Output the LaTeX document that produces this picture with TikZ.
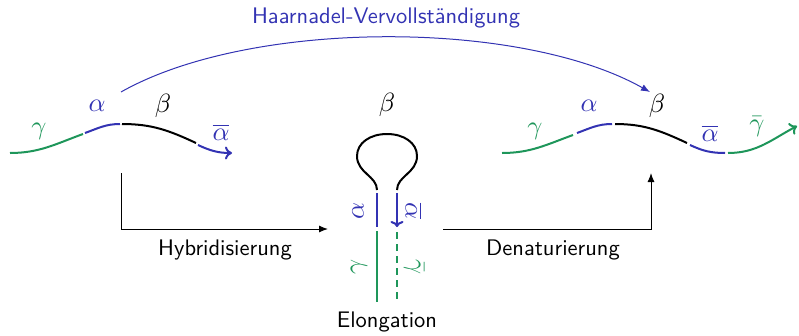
\documentclass[tikz,border=0pt]{standalone}
\usepackage{fontspec}
\usetikzlibrary{arrows.meta}
\definecolor{sblue}{RGB}{51,51,179}
\definecolor{sgreen}{RGB}{30,150,90}
\begin{document}
\begin{tikzpicture}[x=1pt,y=1pt,
  font=\sffamily,
  every node/.style={scale=2.25},
  strand/.style={line width=2pt},
  tipstrand/.style={strand,-{Computer Modern Rightarrow[length=7pt,width=13pt]}},
  flow/.style={line width=1pt,-{Latex[length=9pt,width=7pt]}},
  lbl/.style={inner sep=0pt,scale=1.17}]
\useasboundingbox (0,0) rectangle (799,-335);

% ---------- left strand ----------
\coordinate (L0) at (10,-153);  \coordinate (L1) at (83,-134);
\coordinate (L2) at (85,-133);  \coordinate (L3) at (120,-124);
\coordinate (L4) at (122,-124); \coordinate (L5) at (196,-143);
\coordinate (L6) at (198,-145); \coordinate (L7) at (232,-153);
\draw[strand,sgreen] (L0) to[out=0,in=200] (L1);
\draw[strand,sblue] (L2) to[out=20,in=180] (L3);
\draw[strand,black] (L4) to[out=0,in=155] (L5);
\draw[tipstrand,sblue] (L6) to[out=-25,in=180] (L7);
\node[lbl,text=sgreen] (lg) at (39,-131) {$\gamma$};
\node[lbl,text=sblue] (la) at (97,-106) {$\alpha$};
\node[lbl] (lb) at (163,-106) {$\beta$};
\node[lbl,text=sblue] (lab) at (221,-132) {$\overline{\alpha}$};

% ---------- right strand ----------
\coordinate (R0) at (502,-153); \coordinate (R1) at (573,-135);
\coordinate (R2) at (577,-133); \coordinate (R3) at (612,-124);
\coordinate (R4) at (615,-124); \coordinate (R5) at (687,-143);
\coordinate (R6) at (690,-145); \coordinate (R7) at (725,-153);
\coordinate (R8) at (728,-153); \coordinate (R9) at (797,-126);
\draw[strand,sgreen] (R0) to[out=0,in=200] (R1);
\draw[strand,sblue] (R2) to[out=20,in=180] (R3);
\draw[strand,black] (R4) to[out=0,in=155] (R5);
\draw[strand,sblue] (R6) to[out=-25,in=180] (R7);
\draw[tipstrand,sgreen] (R8) to[out=0,in=208] (R9);
\node[lbl,text=sgreen] (rg) at (535,-131) {$\gamma$};
\node[lbl,text=sblue] (ra) at (589,-106) {$\alpha$};
\node[lbl] (rb) at (657,-106) {$\beta$};
\node[lbl,text=sblue] (rab) at (710,-133) {$\overline{\alpha}$};
\node[lbl,text=sgreen] (rgb) at (757,-127) {$\bar{\gamma}$};

% ---------- hairpin ----------
\coordinate (HL0) at (377,-190); \coordinate (HR0) at (397,-190);
\draw[strand,black] (HL0) .. controls (377,-176) and (357,-173) .. (357,-156)
  .. controls (357,-143) and (370,-134) .. (387,-134)
  .. controls (404,-134) and (417,-143) .. (417,-156)
  .. controls (417,-173) and (397,-176) .. (HR0);
\coordinate (HLa) at (377,-193); \coordinate (HLb) at (377,-227);
\coordinate (HLc) at (377,-231); \coordinate (HLd) at (377,-302);
\coordinate (HRa) at (397,-193); \coordinate (HRb) at (397,-227);
\coordinate (HRc) at (397,-232); \coordinate (HRd) at (397,-302);
\draw[strand,sblue] (HLa) -- (HLb);
\draw[strand,sgreen] (HLc) -- (HLd);
\draw[strand,sblue,-{Computer Modern Rightarrow[length=6pt,width=13pt]}] (HRa) -- (HRb);
\draw[strand,sgreen,dash pattern=on 7pt off 5pt] (HRc) -- (HRd);
\node[lbl] (hb) at (387,-105) {$\beta$};
\node[lbl,rotate=90,text=sblue] (ha) at (358,-211) {$\alpha$};
\node[lbl,rotate=90,text=sgreen] (hg) at (359,-267) {$\gamma$};
\node[lbl,rotate=-90,text=sblue] (hab) at (414,-211) {$\overline{\alpha}$};
\node[lbl,rotate=-90,text=sgreen] (hgb) at (414,-267) {$\bar{\gamma}$};
\node (elong) at (387,-322) {Elongation};

% ---------- process arrows ----------
\coordinate (hyA) at (121,-173); \coordinate (hyB) at (328,-229);
\draw[flow] (hyA) |- (hyB);
\node (hyb) at (225,-250) {Hybridisierung};
\coordinate (deA) at (443,-229); \coordinate (deB) at (651,-173);
\draw[flow] (deA) -| (deB);
\node (den) at (553,-250) {Denaturierung};

% ---------- top arc ----------
\coordinate (arcA) at (121,-92); \coordinate (arcB) at (650,-92);
\draw[sblue,line width=1pt,-{Latex[length=9pt,width=7pt]}] (arcA) .. controls (250,-19) and (520,-19) .. (arcB);
\node[text=sblue] (hv) at (386,-18) {Haarnadel-Vervollst\"andigung};
\end{tikzpicture}
\end{document}
